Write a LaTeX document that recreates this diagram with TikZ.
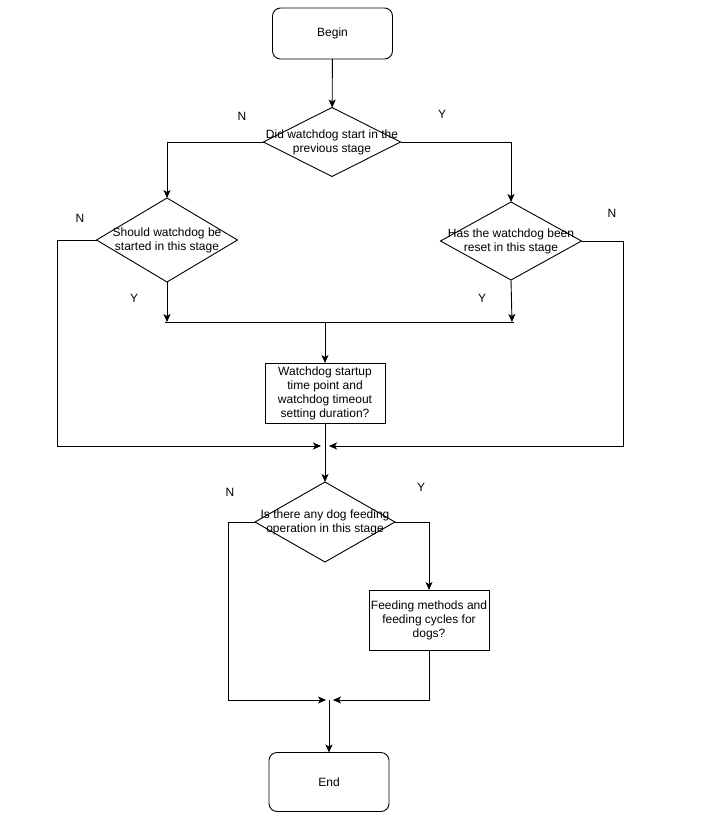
\documentclass[tikz,border=0pt]{standalone}
\usepackage{fontspec}
\setmainfont{Liberation Sans}
\usetikzlibrary{shapes.geometric,arrows.meta}

\begin{document}
\begin{tikzpicture}[x=1pt,y=-1pt,line width=.9pt,
    font=\fontsize{12}{14}\selectfont,
    term/.style={draw,rounded corners=8pt,minimum width=120pt,minimum height=51pt,outer sep=0pt},
    proc/.style={draw,align=center,minimum width=120pt,minimum height=60pt,inner sep=1pt,outer sep=0pt},
    dec/.style={draw,diamond,inner sep=0pt,outer sep=0pt,minimum width=140pt,minimum height=80pt},
    txt/.style={align=center,inner sep=0pt},
    arr/.style={-{Stealth[length=8pt,width=7pt,inset=2pt]}}]
    \useasboundingbox (0,0) rectangle (718,829);
    % boxes
    \node[term] (begin) at (332.5,33.5) {Begin};
    \node[dec,minimum height=69pt,minimum width=137pt,
      label={[txt]center:{Did watchdog start in the\\previous stage}}] (d1) at (332,142) {};
    \node[dec,minimum width=141pt,minimum height=84pt,
      label={[txt]center:{Should watchdog be\\started in this stage}}] (d2) at (167,240) {};
    \node[dec,minimum width=141pt,minimum height=78pt,
      label={[txt]center:{Has the watchdog been\\reset in this stage}}] (d3) at (511,241) {};
    \node[proc] (task) at (325,393) {Watchdog startup\\time point and\\watchdog timeout\\setting duration?};
    \node[dec,label={[txt]center:{Is there any dog feeding\\operation in this stage}}] (d4) at (325,522) {};
    \node[proc] (feed) at (429,620) {Feeding methods and\\feeding cycles for\\dogs?};
    \node[term,minimum height=59pt] (end) at (329,782) {End};
    % Y / N
    \node (n1) at (242,116) {N};
    \node (y1) at (442,114) {Y};
    \node (n2) at (80,218) {N};
    \node (n3) at (612,213) {N};
    \node (y2) at (134,298) {Y};
    \node (y3) at (482,298) {Y};
    \node (n4) at (230,492) {N};
    \node (y4) at (421,487) {Y};
    % join points
    \coordinate (jl) at (167,322);
    \coordinate (jr) at (512,322);
    \coordinate (jm) at (325,322);
    \coordinate (ll) at (57,446);
    \coordinate (rr) at (623,446);
    \coordinate (inl) at (321,446);
    \coordinate (inr) at (329,446);
    \coordinate (bl) at (228,700);
    \coordinate (inl2) at (326,700);
    \coordinate (inr2) at (333,700);
    \coordinate (jb) at (329,700);
    % connectors
    \draw[arr] (begin) -- (d1);
    \draw[arr] (d1.west) -| (d2.north);
    \draw[arr] (d1.east) -| (d3.north);
    \draw[arr] (d2.south) -- (jl);
    \draw[arr] (d3.south) -- (jr);
    \draw ([xshift=-2pt]jl) -- ([xshift=2pt]jr);
    \draw[arr] (jm) -- (task.north);
    \draw[arr] (d2.west) -| (ll) -- (inl);
    \draw[arr] (d3.east) -| (rr) -- (inr);
    \draw[arr] (task.south) -- (d4.north);
    \draw[arr] (d4.west) -| (bl) -- (inl2);
    \draw[arr] (d4.east) -| (feed.north);
    \draw[arr] (feed.south) |- (inr2);
    \draw[arr] (jb) -- (end.north);
\end{tikzpicture}
\end{document}
